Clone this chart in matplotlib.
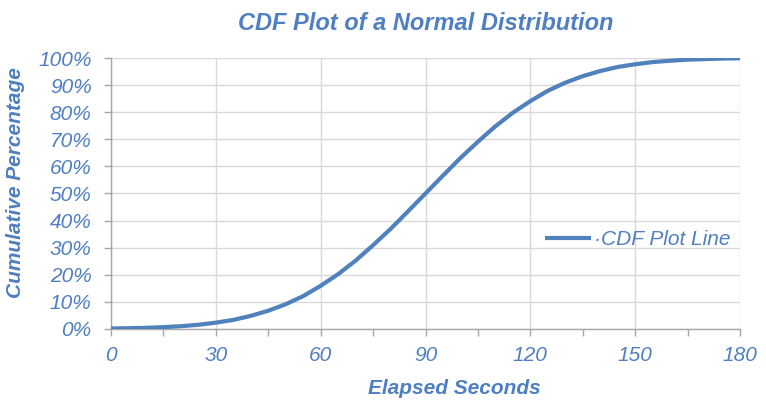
import matplotlib
matplotlib.use("Agg")
import matplotlib.pyplot as plt
from matplotlib.ticker import PercentFormatter, MultipleLocator

# Elapsed time (s) and cumulative share of observations (%)
seconds = [0, 5, 10, 15, 20, 25, 30, 35, 40, 45, 50, 55, 60, 65, 70, 75, 80, 85, 90,
           95, 100, 105, 110, 115, 120, 125, 130, 135, 140, 145, 150, 155, 160, 165,
           170, 175, 180]
cumulative_pct = [0.13, 0.23, 0.38, 0.62, 0.98, 1.5, 2.3, 3.3, 4.8, 6.7, 9.1, 12.1,
                  15.9, 20.2, 25.2, 30.9, 36.9, 43.4, 50.0, 56.6, 63.1, 69.1, 74.8,
                  79.8, 84.1, 87.9, 90.9, 93.3, 95.2, 96.7, 97.7, 98.5, 99.0, 99.4,
                  99.6, 99.8, 99.9]
series_label = "\u00b7CDF Plot Line"

BLUE = "#4f81bd"
TEXT = "#4f7fc1"
GRID = "#d9d9d9"
AXIS = "#a6a6a6"

plt.rcParams["font.family"] = ["Liberation Sans", "DejaVu Sans"]

fig = plt.figure(figsize=(7.66, 4.03), dpi=100)
ax = fig.add_axes([0.145, 0.184, 0.821, 0.672])

ax.plot(seconds, cumulative_pct, color=BLUE, linewidth=3, solid_capstyle="butt",
        solid_joinstyle="round", label=series_label, zorder=3)

ax.set_xlim(0, 180)
ax.set_ylim(0, 100)
ax.xaxis.set_major_locator(MultipleLocator(30))
ax.xaxis.set_minor_locator(MultipleLocator(15))
ax.yaxis.set_major_locator(MultipleLocator(10))
ax.yaxis.set_major_formatter(PercentFormatter(100, decimals=0))

ax.grid(True, which="major", color=GRID, linewidth=1)
ax.set_axisbelow(True)
for side in ("top", "right"):
    ax.spines[side].set_visible(False)
for side in ("left", "bottom"):
    ax.spines[side].set_color(AXIS)
    ax.spines[side].set_linewidth(1)

ax.tick_params(axis="both", which="both", direction="out", color=AXIS, width=1)
ax.tick_params(axis="x", which="major", length=5, pad=7)
ax.tick_params(axis="x", which="minor", length=5)
ax.tick_params(axis="y", which="major", length=5, pad=9)
for lbl in ax.get_xticklabels() + ax.get_yticklabels():
    lbl.set_fontsize(15)
    lbl.set_fontstyle("italic")
    lbl.set_color(TEXT)

ax.set_title("CDF Plot of a Normal Distribution", fontsize=17, fontweight="bold",
             fontstyle="italic", color=TEXT, pad=20)
ax.set_xlabel("Elapsed Seconds", fontsize=15, fontweight="bold",
              fontstyle="italic", color=TEXT)
ax.xaxis.set_label_coords(0.546, -0.186)
ax.set_ylabel("Cumulative Percentage", fontsize=15, fontweight="bold",
              fontstyle="italic", color=TEXT)
ax.yaxis.set_label_coords(-0.137, 0.542)

leg = ax.legend(loc="center left", bbox_to_anchor=(0.66, 0.33), frameon=False,
                handlelength=2.2, handletextpad=0.15,
                prop={"size": 15, "style": "italic"})
for t in leg.get_texts():
    t.set_color(TEXT)

fig.savefig("out.png", dpi=100)
